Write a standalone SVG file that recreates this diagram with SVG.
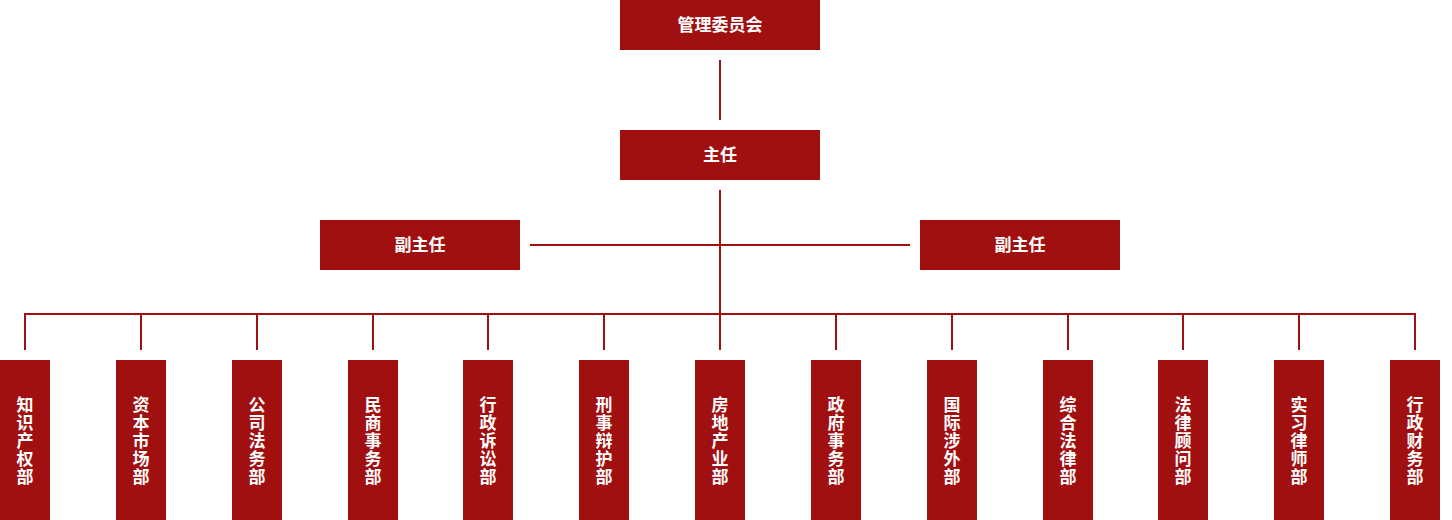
<svg xmlns="http://www.w3.org/2000/svg" width="1452" height="520" viewBox="0 0 1452 520">
<style>
.box{fill:#a01010}
.t{fill:#fff;font-family:"Noto Sans CJK SC","Noto Sans",sans-serif;font-weight:bold;font-size:17px;text-anchor:middle}
.v{fill:#fff;font-family:"Noto Sans CJK SC","Noto Sans",sans-serif;font-weight:bold;font-size:17px;letter-spacing:1px;text-anchor:middle;writing-mode:vertical-rl;glyph-orientation-vertical:0}
.ln{stroke:#a01010;stroke-width:2;fill:none}
</style>
<rect width="1452" height="520" fill="#fff"/>
<g id="connectors" class="ln">
<line x1="720" y1="60" x2="720" y2="120"/>
<line x1="720" y1="190" x2="720" y2="350"/>
<line x1="530" y1="245" x2="910" y2="245"/>
<line x1="24" y1="314" x2="1416" y2="314"/>
<line x1="25" y1="314" x2="25" y2="350"/>
<line x1="141" y1="314" x2="141" y2="350"/>
<line x1="257" y1="314" x2="257" y2="350"/>
<line x1="373" y1="314" x2="373" y2="350"/>
<line x1="488" y1="314" x2="488" y2="350"/>
<line x1="604" y1="314" x2="604" y2="350"/>
<line x1="836" y1="314" x2="836" y2="350"/>
<line x1="952" y1="314" x2="952" y2="350"/>
<line x1="1068" y1="314" x2="1068" y2="350"/>
<line x1="1183" y1="314" x2="1183" y2="350"/>
<line x1="1299" y1="314" x2="1299" y2="350"/>
<line x1="1415" y1="314" x2="1415" y2="350"/>
</g>
<g id="committee"><rect class="box" x="620" y="0" width="200" height="50"/><text class="t" x="720" y="31">管理委员会</text></g>
<g id="director"><rect class="box" x="620" y="130" width="200" height="50"/><text class="t" x="720" y="161">主任</text></g>
<g id="deputy1"><rect class="box" x="320" y="220" width="200" height="50"/><text class="t" x="420" y="251">副主任</text></g>
<g id="deputy2"><rect class="box" x="920" y="220" width="200" height="50"/><text class="t" x="1020" y="251">副主任</text></g>
<g id="d1"><rect class="box" x="0" y="360" width="50" height="160"/><text class="v" x="25" y="441">知识产权部</text></g>
<g id="d2"><rect class="box" x="116" y="360" width="50" height="160"/><text class="v" x="141" y="441">资本市场部</text></g>
<g id="d3"><rect class="box" x="232" y="360" width="50" height="160"/><text class="v" x="257" y="441">公司法务部</text></g>
<g id="d4"><rect class="box" x="348" y="360" width="50" height="160"/><text class="v" x="373" y="441">民商事务部</text></g>
<g id="d5"><rect class="box" x="463" y="360" width="50" height="160"/><text class="v" x="488" y="441">行政诉讼部</text></g>
<g id="d6"><rect class="box" x="579" y="360" width="50" height="160"/><text class="v" x="604" y="441">刑事辩护部</text></g>
<g id="d7"><rect class="box" x="695" y="360" width="50" height="160"/><text class="v" x="720" y="441">房地产业部</text></g>
<g id="d8"><rect class="box" x="811" y="360" width="50" height="160"/><text class="v" x="836" y="441">政府事务部</text></g>
<g id="d9"><rect class="box" x="927" y="360" width="50" height="160"/><text class="v" x="952" y="441">国际涉外部</text></g>
<g id="d10"><rect class="box" x="1043" y="360" width="50" height="160"/><text class="v" x="1068" y="441">综合法律部</text></g>
<g id="d11"><rect class="box" x="1158" y="360" width="50" height="160"/><text class="v" x="1183" y="441">法律顾问部</text></g>
<g id="d12"><rect class="box" x="1274" y="360" width="50" height="160"/><text class="v" x="1299" y="441">实习律师部</text></g>
<g id="d13"><rect class="box" x="1390" y="360" width="50" height="160"/><text class="v" x="1415" y="441">行政财务部</text></g>
</svg>
